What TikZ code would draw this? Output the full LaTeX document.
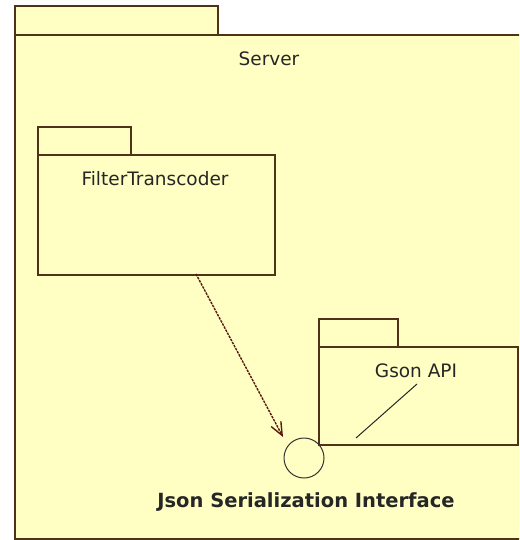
\documentclass[tikz,border=0pt]{standalone}
\usepackage{fontspec}
\setmainfont{DejaVu Sans}
\usetikzlibrary{arrows.meta}

\definecolor{pkgfill}{RGB}{255,255,196}
\definecolor{pkgline}{RGB}{80,50,25}
\definecolor{deparrow}{RGB}{90,25,15}

\begin{document}
\begin{tikzpicture}[x=1pt, y=-1pt]

\tikzstyle{pkg} = [rectangle, draw=pkgline, fill=pkgfill, line width=1.8pt, anchor=north west, inner sep=0pt]
\tikzstyle{pkgname} = [font=\fontsize{18.5}{20}\selectfont, text=black!85]
\tikzstyle{iface} = [circle, draw=black!80, line width=1pt, minimum size=40pt, inner sep=0pt]

\clip (0, 0) rectangle (519, 540);

% server package
\node[pkg, minimum width=203pt, minimum height=29pt] (servertab) at (14, 5) {};
\node[pkg, minimum width=540pt, minimum height=504pt] (server) at (14, 34) {};
\node[pkgname] (servername) at (269, 59) {Server};

% filter transcoder package
\node[pkg, minimum width=93pt, minimum height=28pt] (fttab) at (37, 126) {};
\node[pkg, minimum width=237pt, minimum height=120pt] (ft) at (37, 154) {};
\node[pkgname] (ftname) at (155, 179) {FilterTranscoder};

% gson package
\node[pkg, minimum width=79pt, minimum height=28pt] (gsontab) at (318, 318) {};
\node[pkg, minimum width=199pt, minimum height=98pt] (gson) at (318, 346) {};
\node[pkgname] (gsonname) at (416, 371) {Gson API};

% interface
\node[iface] (json) at (304, 458) {};
\node[font=\bfseries\fontsize{19.5}{21}\selectfont, text=black!85] (jsonname) at (306, 502) {Json Serialization Interface};

\coordinate (ftout) at (196, 274);
\coordinate (jsontip) at (283, 437);
\coordinate (gsonlow) at (356, 438);
\coordinate (gsonhigh) at (417, 384);

\draw[-{Straight Barb[length=13pt, width=11pt]}, deparrow, line width=1.4pt, dash pattern=on 2.5pt off 1pt] (ftout) -- (jsontip);
\draw[black!85, line width=1pt] (gsonlow) -- (gsonhigh);

\end{tikzpicture}
\end{document}
